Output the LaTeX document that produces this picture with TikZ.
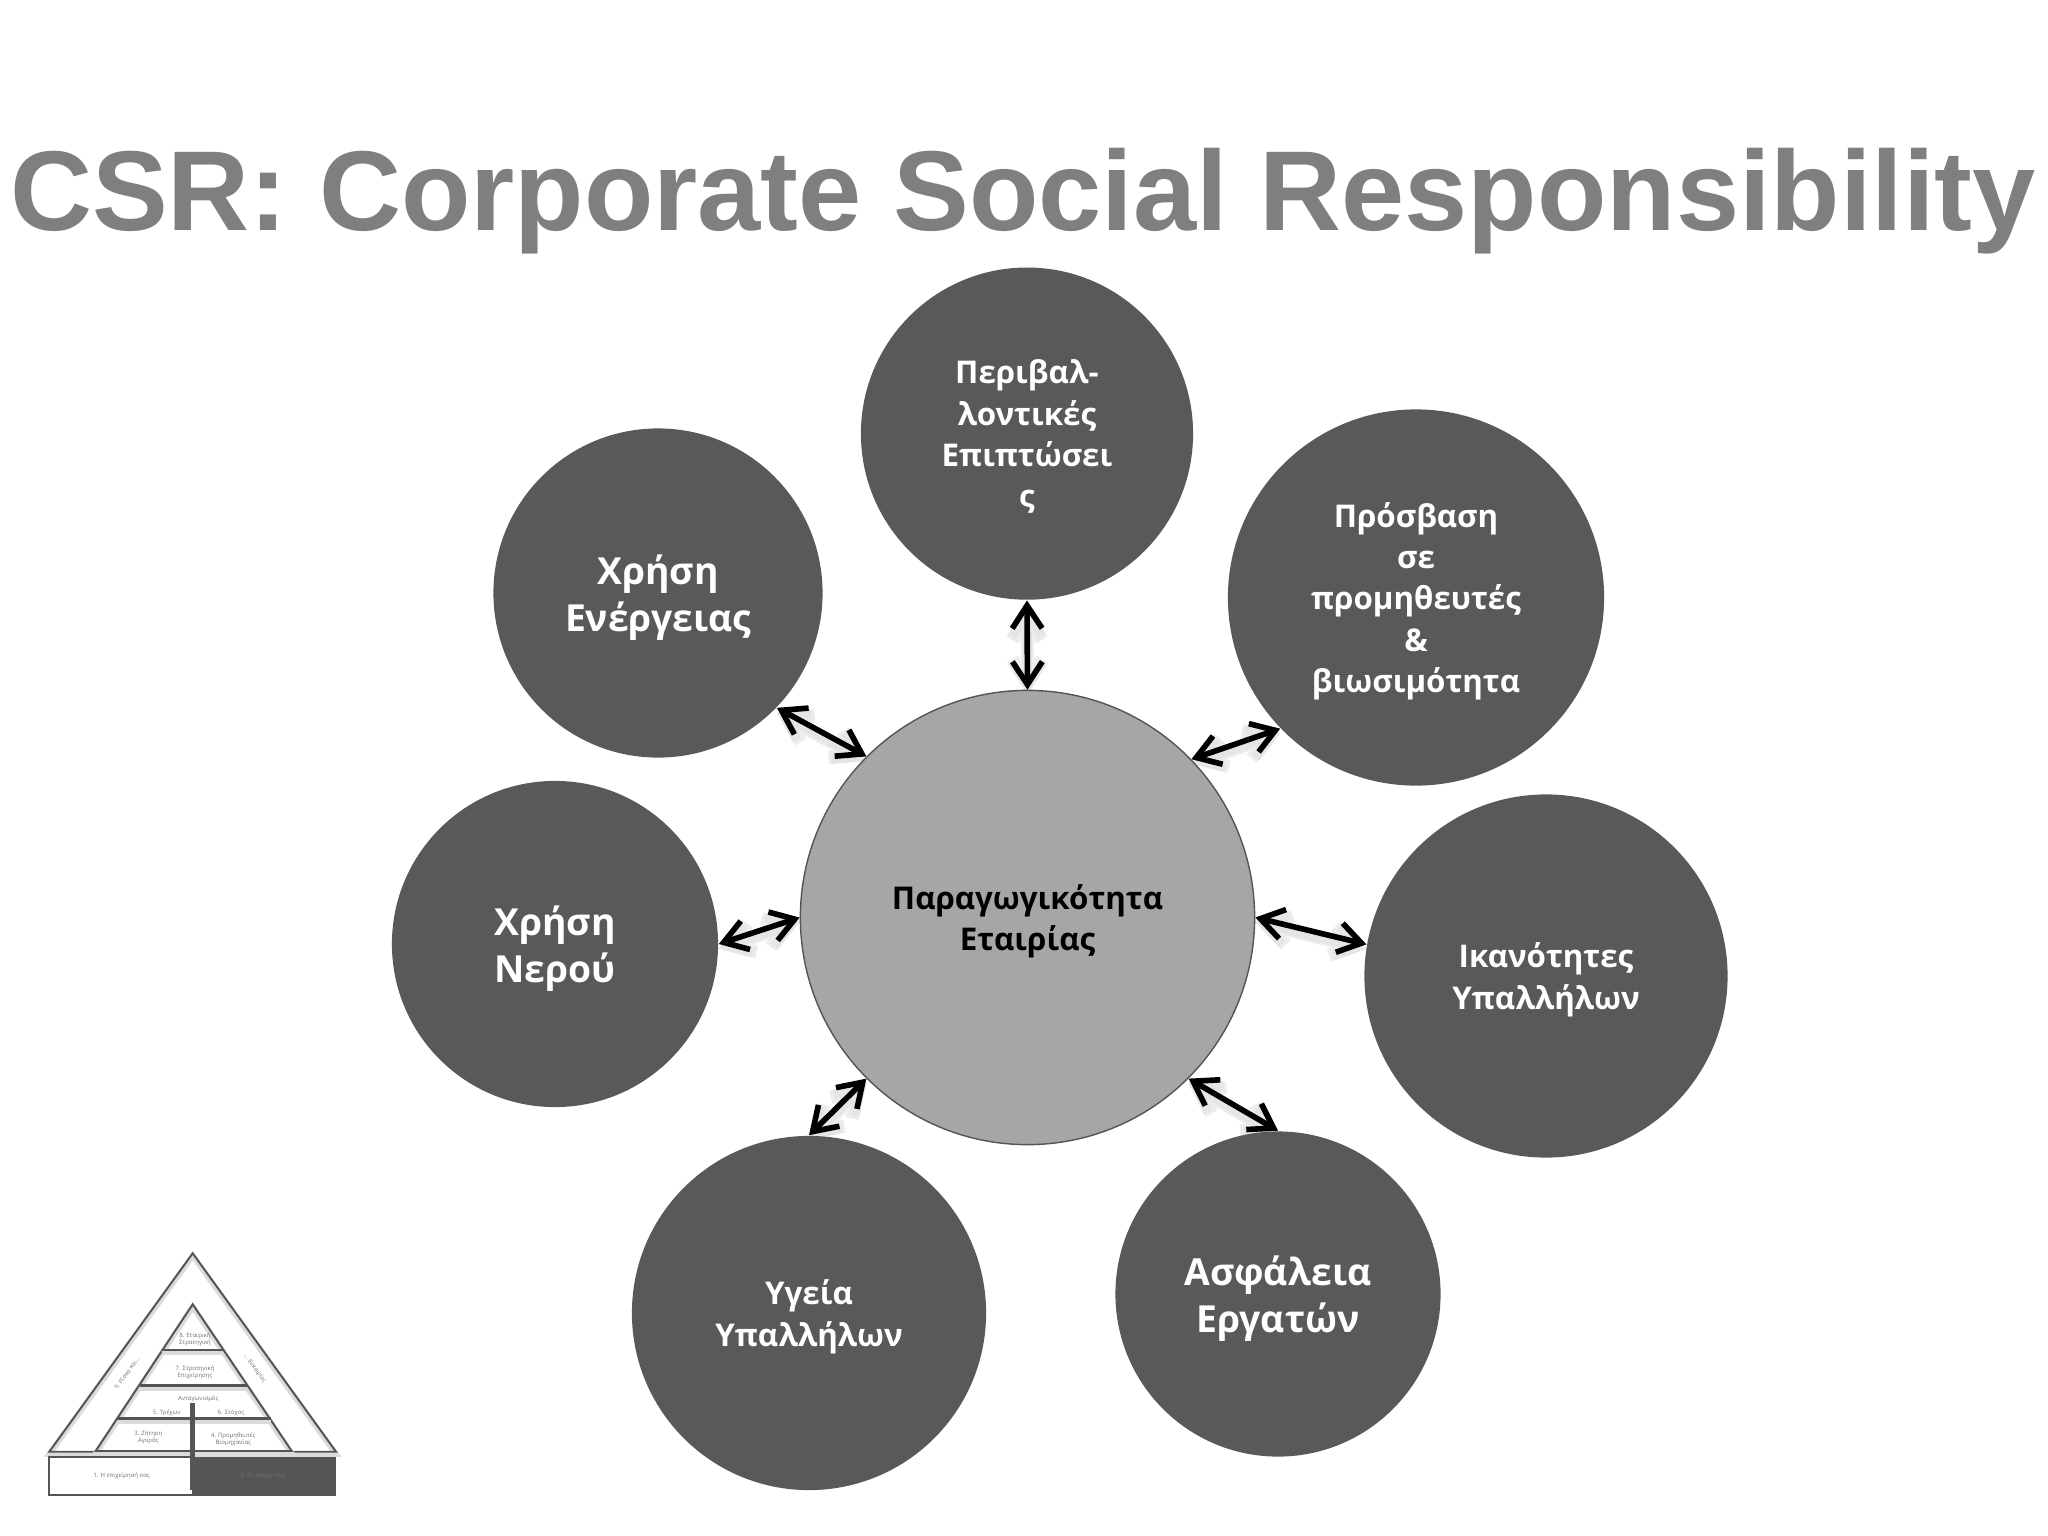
\documentclass[tikz,border=0pt]{standalone}
\usepackage{fontspec}
\setmainfont{Open Sans}
\newfontfamily\titlefont{Liberation Sans}
\usetikzlibrary{arrows.meta,backgrounds}
\definecolor{darkdisc}{HTML}{595959}
\definecolor{middisc}{HTML}{A6A6A6}
\definecolor{titlegray}{HTML}{7F7F7F}
\definecolor{pyrline}{HTML}{555555}
\definecolor{pyrtext}{HTML}{707070}
\tikzset{
 disc/.style={circle,fill=darkdisc,text=white,inner sep=0pt,align=center,font=\bfseries\fontsize{8.9}{11.7}\selectfont,text depth=0pt},
 biglabel/.style={font=\bfseries\fontsize{10.6}{13.4}\selectfont},
 link/.style={<->,>={Straight Barb[length=6.5pt,width=8.5pt]},line width=1.6pt,line cap=round,
  preaction={draw=black!7,line width=3.8pt,transform canvas={yshift=-1.3pt}},
  preaction={draw=black!10,line width=2.6pt,transform canvas={yshift=-1.3pt}}},
 pyrshade/.style={preaction={draw=black!14,line width=1.6pt,transform canvas={yshift=-.7pt}}},
 pyr/.style={draw=pyrline,line width=.55pt,pyrshade},
 pyrbar/.style={draw=pyrline,line width=.8pt,pyrshade},
 pyrlabel/.style={text=pyrtext,inner sep=0pt,align=center,font=\fontsize{1.7}{2}\selectfont}
}
\begin{document}
\begin{tikzpicture}[x=0.01cm,y=-0.01cm]
\useasboundingbox (0,0) rectangle (2048,1536);

\node[text=titlegray,font=\titlefont\bfseries\fontsize{32.3}{36}\selectfont] (title) at (1023,201) {CSR: Corporate Social Responsibility};

\node[circle,draw=pyrline,line width=.4pt,fill=middisc,minimum size=4.54cm,inner sep=0pt,align=center,text depth=0pt,
 font=\bfseries\fontsize{8.9}{11.7}\selectfont] (firm) at (1027.5,917.5) {Παραγωγικότητα\\Εταιρίας};
\node[disc,minimum size=3.32cm] (environ) at (1027,433.6) {Περιβαλ-\\λοντικές\\Επιπτώσει\\ς};
\node[disc,minimum size=3.76cm] (access) at (1416,597.5) {Πρόσβαση\\σε\\προμηθευτές\\\&\\βιωσιμότητα};
\node[disc,minimum size=3.63cm] (skills) at (1546,976) {Ικανότητες\\Υπαλλήλων};
\node[disc,biglabel,minimum size=3.25cm] (safety) at (1278,1294) {Ασφάλεια\\Εργατών};
\node[disc,minimum size=3.54cm] (health) at (809,1313) {Υγεία\\Υπαλλήλων};
\node[disc,biglabel,minimum size=3.26cm] (water) at (555,944) {Χρήση\\Νερού};
\node[disc,biglabel,minimum size=3.29cm] (energy) at (658,593) {Χρήση\\Ενέργειας};

\begin{scope}[on background layer]
\draw[link] (environ.south) -- (firm.north);
\draw[link] (energy.-44) -- (firm.135);
\draw[link] (access.224) -- (firm.44.5);
\draw[link] (skills.170) -- (firm.east);
\draw[link] (safety.north) -- (firm.-45);
\draw[link] (health.north) -- (firm.225);
\draw[link] (water.east) -- (firm.west);
\end{scope}

% small pyramid
\draw[pyr] (192.7,1253.3) -- (336,1451.7) -- (49.3,1451.7) -- cycle;
\draw[pyr] (192.7,1304.3) -- (291.7,1451) -- (95.7,1451) -- cycle;
\draw[pyrbar] (161.7,1350) -- (223.3,1350);
\draw[pyrbar] (140,1385.3) -- (247.3,1385.3);
\draw[pyrbar] (117.3,1418.7) -- (270.7,1418.7);
\draw[pyrbar] (95.7,1451) -- (291.7,1451);
\draw[draw=pyrline,line width=.5pt,fill=white] (49.3,1456.7) rectangle (192.7,1495);
\fill[pyrline] (192.7,1456.7) rectangle (336,1496);
\fill[pyrline] (190.2,1403.3) rectangle (195.2,1490);

\node[pyrlabel] (lab1) at (121.7,1476) {1. Η επιχείρησή σας};
\node[pyrlabel,text=black!55] (lab2) at (263.3,1476) {2. Οι στόχοι σας};
\node[pyrlabel] (lab3) at (148.3,1437.7) {3. Ζήτηση\\Αγοράς};
\node[pyrlabel] (lab4) at (233.3,1439) {4. Προμηθευτές\\Βιομηχανίας};
\node[pyrlabel] (lab5) at (166.7,1412.7) {5. Τρέχων};
\node[pyrlabel] (lab6) at (231,1412.7) {6. Στόχος};
\node[pyrlabel] (rival) at (198.3,1399) {Ανταγωνισμός};
\node[pyrlabel] (lab7) at (195,1372.3) {7. Στρατηγική\\Επιχείρησης};
\node[pyrlabel] (lab8) at (195,1339.3) {8. Εταιρική\\Στρατηγική};
\node[pyrlabel,rotate=54] (lab9) at (126.7,1373) {9. Ρίσκα και...};
\node[pyrlabel,rotate=-54] (chance) at (255,1368.3) {... Ευκαιρίες};
\end{tikzpicture}
\end{document}
